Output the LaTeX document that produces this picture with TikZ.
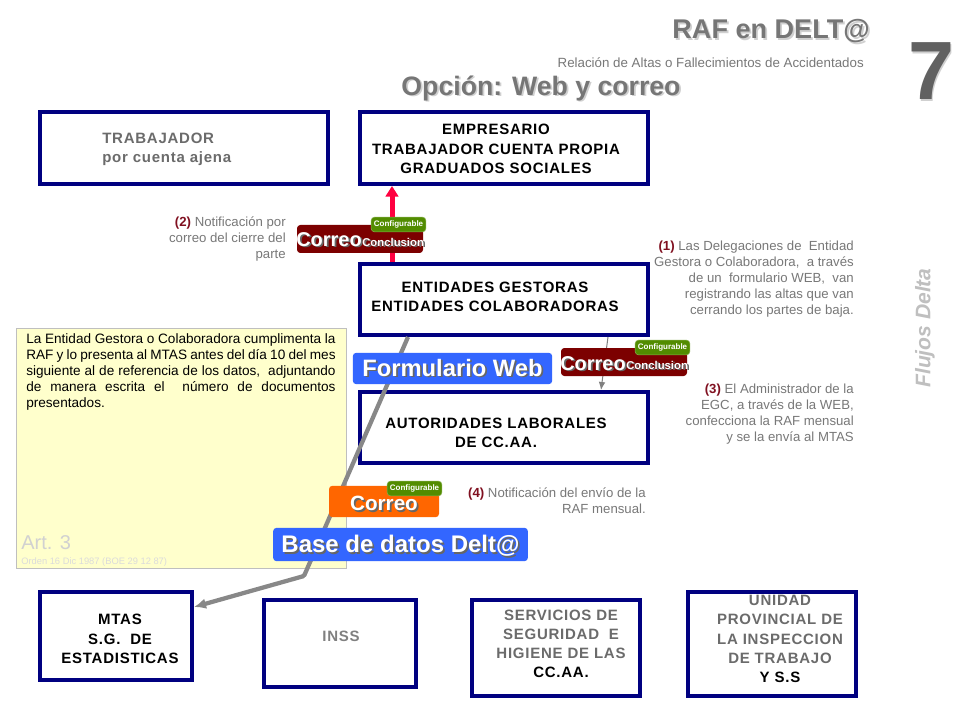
\documentclass[tikz,border=0pt]{standalone}
\usepackage{fontspec}
\setmainfont{Liberation Sans}
\usetikzlibrary{arrows.meta}
\definecolor{boxblue}{RGB}{0,0,128}
\definecolor{notegray}{RGB}{120,120,120}
\definecolor{headgray}{RGB}{118,118,118}
\definecolor{softshadow}{RGB}{208,208,208}
\definecolor{numred}{RGB}{128,16,32}
\definecolor{wine}{RGB}{124,0,0}
\definecolor{leaf}{RGB}{82,140,0}
\definecolor{webblue}{RGB}{51,102,255}
\definecolor{mailorange}{RGB}{255,102,0}
\definecolor{paleyellow}{RGB}{255,255,204}
\newcommand{\shadowed}[2][softshadow]{\rlap{\kern1.3pt\raisebox{-1.3pt}{\textcolor{#1}{#2}}}#2}
\newcommand{\fsize}[1]{\fontsize{#1}{#1}\selectfont}
\tikzset{
  bluebox/.style={draw=boxblue,line width=3pt,fill=white,inner sep=0pt},
  boxtext/.style={align=center,inner sep=0pt,font=\bfseries\fontsize{11.25}{14.4}\selectfont\addfontfeatures{LetterSpace=5}},
  notetext/.style={align=right,anchor=east,inner sep=0pt,text=notegray,font=\fontsize{9.9}{12}\selectfont},
  tag/.style={rounded corners=2.5pt,inner sep=0pt,text=white,font=\bfseries},
  configtag/.style={tag,fill=leaf,draw=leaf!70!white,line width=.4pt,minimum width=41pt,minimum height=11pt,font=\bfseries\fsize{6}},
  linkred/.style={draw={rgb,255:red,255;green,0;blue,64},line width=3.75pt,-{Triangle[length=8pt,width=9.5pt]}},
  linkgray/.style={draw={rgb,255:red,136;green,136;blue,136},line width=3.2pt,-{Latex[length=9pt,width=8pt]}},
  linkthin/.style={draw=gray,line width=.75pt,-{Latex[length=6pt,width=5pt]}},
}
\begin{document}
\begin{tikzpicture}[x=0.75pt,y=-0.75pt]
  \fill[white] (0,0) rectangle (960,720);
  \useasboundingbox (0,0) rectangle (960,720);

  % headings
  \node[inner sep=0pt,anchor=east,text=headgray,font=\bfseries\fsize{20.3}] (rafTitle) at (870,32) {\shadowed{RAF en DELT@}};
  \node[inner sep=0pt,anchor=east,text=notegray,font=\fsize{10}] (rafSub) at (864,63) {Relación de Altas o Fallecimientos de Accidentados};
  \node[inner sep=0pt,text=headgray,font=\bfseries\fsize{20}] (optionTitle) at (541,89) {\shadowed{Opción: Web y correo}};
  \node[inner sep=0pt,text=black!62,font=\bfseries\fsize{62}] (slideNum) at (931,72) {\shadowed{7}};
  \node[inner sep=0pt,rotate=90,text=black!25,font=\bfseries\itshape\fsize{15.8}] (flowTag) at (925,328) {Flujos Delta};

  % yellow note
  \node[draw=black!25,fill=paleyellow,line width=.6pt,inner sep=0pt,minimum width=247.5pt,minimum height=180.5pt] (artBox) at (181,448.5) {};
  \node[inner sep=0pt,anchor=north west,text width=232pt,align=justify,font=\fontsize{10.2}{12}\selectfont] (artText) at (26,333) {La Entidad Gestora o Colaboradora cumplimenta la\linebreak RAF y lo presenta al MTAS antes del día 10 del mes\linebreak siguiente al de referencia de los datos,~ adjuntando\linebreak de manera escrita el~ número de documentos\linebreak presentados.};
  \node[inner sep=0pt,anchor=west,text=black!18,font=\fsize{15}] (artNum) at (21,543) {Art. 3};
  \node[inner sep=0pt,anchor=west,text=black!14,font=\fsize{7}] (artRef) at (21,562) {Orden 16 Dic 1987 (BOE 29 12 87)};

  % boxes: name/left/top/right/bottom
  \foreach \n/\l/\t/\r/\b in {worker/38/110/330/186,employer/358/110/650/186,entities/358/262/650/337,labour/358/390/650/465,mtas/38/590/194/682,inss/262/598/418/689,safety/470/598/642/698,inspect/686/590/858/698}
  {
    \node[bluebox,minimum width={(\r-\l-4)*0.75pt},minimum height={(\b-\t-4)*0.75pt}] (\n) at ({(\l+\r)/2},{(\t+\b)/2}) {};
  }

  \node[boxtext,anchor=west,align=left,text=black!58] (workerText) at (102,149) {TRABAJADOR\\por cuenta ajena};
  \node[boxtext] (employerText) at (496,149) {EMPRESARIO\\TRABAJADOR CUENTA PROPIA\\GRADUADOS SOCIALES};
  \node[boxtext] (entitiesText) at (495,297) {ENTIDADES GESTORAS\\ENTIDADES COLABORADORAS};
  \node[boxtext] (labourText) at (496,433) {AUTORIDADES LABORALES\\DE CC.AA.};
  \node[boxtext] (mtasText) at (120,639) {MTAS\\S.G.~ DE\\ESTADISTICAS};
  \node[boxtext,text=black!50] (inssText) at (341,636) {INSS};
  \node[boxtext,text=black!58] (safetyText) at (561,644) {SERVICIOS DE\\SEGURIDAD~ E\\HIGIENE DE LAS\\\textcolor{black}{CC.AA.}};
  \node[boxtext,text=black!58] (inspectText) at (780,639) {UNIDAD\\PROVINCIAL DE\\LA INSPECCION\\DE TRABAJO\\\textcolor{black}{Y S.S}};

  % notes
  \node[notetext] (noteTwo) at (286,239) {\textcolor{numred}{\textbf{(2)}} Notificación por\\correo del cierre del\\parte};
  \node[notetext] (noteOne) at (854,279) {\textcolor{numred}{\textbf{(1)}} Las Delegaciones de~ Entidad\\Gestora o Colaboradora,~ a través\\de un~ formulario WEB,~ van\\registrando las altas que van\\cerrando los partes de baja.};
  \node[notetext] (noteThree) at (854,414) {\textcolor{numred}{\textbf{(3)}} El Administrador de la\\EGC, a través de la WEB,\\confecciona la RAF mensual\\y se la envía al MTAS};
  \node[notetext] (noteFour) at (646,501) {\textcolor{numred}{\textbf{(4)}} Notificación del envío de la\\RAF mensual.};

  % connectors
  \coordinate (kneeGray) at (304,576);
  \draw[linkred] ([xshift=-84pt]entities.north) -- ([xshift=-84pt]employer.south);
  \draw[linkgray,rounded corners=1pt] ([xshift=-72pt]entities.south) -- (kneeGray) -- ([yshift=21.75pt]mtas.east);
  \draw[linkthin] ([xshift=78pt]entities.south) -- ([xshift=72.75pt]labour.north);

  % tags on top of the links
  \node[tag,fill=wine,minimum width=94.5pt,minimum height=21pt] (mailTwo) at (360,239) {};
  \node[inner sep=0pt,anchor=west,text=white,font=\bfseries\fsize{15}] (mailTwoA) at (296,240) {\shadowed[black!60]{Correo}};
  \node[inner sep=0pt,anchor=west,text=white,font=\bfseries\fsize{8.5}] (mailTwoB) at (362,243) {\shadowed[black!60]{Conclusion}};
  \node[configtag] (cfgTwo) at (398.5,224.5) {Configurable};

  \node[tag,fill=wine,minimum width=94.5pt,minimum height=21pt] (mailThree) at (624,362) {};
  \node[inner sep=0pt,anchor=west,text=white,font=\bfseries\fsize{15}] (mailThreeA) at (560,364) {\shadowed[black!60]{Correo}};
  \node[inner sep=0pt,anchor=west,text=white,font=\bfseries\fsize{8.5}] (mailThreeB) at (626,366) {\shadowed[black!60]{Conclusion}};
  \node[configtag] (cfgThree) at (662.5,347.5) {Configurable};

  \node[tag,fill=webblue,minimum width=149.5pt,minimum height=23.5pt,font=\bfseries\fsize{17.8}] (webForm) at (452.5,368.5) {\shadowed[black!60]{Formulario Web}};

  \node[tag,fill=mailorange,minimum width=82.5pt,minimum height=23.5pt,font=\bfseries\fsize{15.5}] (mailFour) at (384,501.5) {\rule{0pt}{15pt}\shadowed[black!60]{Correo}};
  \node[configtag] (cfgFour) at (414.5,488.5) {Configurable};

  \node[tag,fill=webblue,minimum width=191pt,minimum height=25pt,font=\bfseries\fsize{18}] (dataBase) at (400.5,544.5) {\rule{0pt}{16.5pt}\shadowed[black!60]{Base de datos Delt@}};
\end{tikzpicture}
\end{document}
